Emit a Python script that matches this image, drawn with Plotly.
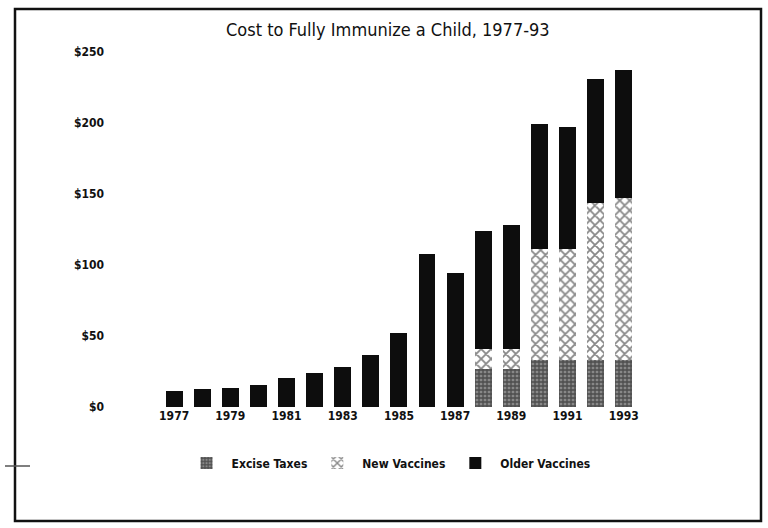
import plotly.graph_objects as go

years = list(range(1977, 1994))
tick_years = [1977, 1979, 1981, 1983, 1985, 1987, 1989, 1991, 1993]
excise_taxes = [0, 0, 0, 0, 0, 0, 0, 0, 0, 0, 0, 27, 27, 33, 33, 33, 33]
new_vaccines = [0, 0, 0, 0, 0, 0, 0, 0, 0, 0, 0, 14, 14, 78, 78, 111, 114]
older_vaccines = [11.5, 12.5, 13.5, 15.5, 20.5, 24, 28, 36.5, 52, 107.5, 94.5, 83, 87, 88, 86, 87, 90]
y_ticks = [0, 50, 100, 150, 200, 250]
y_tick_text = ["$" + str(v) for v in y_ticks]

FONT = "DejaVu Sans Condensed"

fig = go.Figure()
fig.add_trace(go.Bar(
    x=years, y=excise_taxes, name="Excise Taxes",
    marker=dict(color="#444444", line=dict(width=0),
                pattern=dict(shape="+", fgcolor="#111111", bgcolor="#888888", size=4, solidity=0.55)),
))
fig.add_trace(go.Bar(
    x=years, y=new_vaccines, name="New Vaccines",
    marker=dict(color="white", line=dict(width=0),
                pattern=dict(shape="x", fgcolor="#111111", bgcolor="white", size=7, solidity=0.45)),
))
fig.add_trace(go.Bar(
    x=years, y=older_vaccines, name="Older Vaccines",
    marker=dict(color="#0d0d0d", line=dict(width=0)),
))

fig.update_layout(
    width=768, height=528,
    barmode="stack", bargap=0.4,
    paper_bgcolor="white", plot_bgcolor="white",
    margin=dict(l=105, r=128, t=52, b=121),
    title=dict(text="Cost to Fully Immunize a Child, 1977-93", x=0.505, xanchor="center",
               y=0.943, yanchor="middle", font=dict(family=FONT, size=18, color="#111")),
    font=dict(family=FONT, color="#111"),
    showlegend=True,
    legend=dict(orientation="h", x=0.53, xanchor="center", y=-0.158, yanchor="middle",
                font=dict(family=FONT, size=12, color="#111", weight="bold"), traceorder="normal",
                itemwidth=40, bgcolor="rgba(0,0,0,0)"),
    xaxis=dict(range=[1974.54, 1993.58], tickvals=tick_years, ticktext=[str(y) for y in tick_years],
               showgrid=False, zeroline=False, showline=False, ticks="",
               tickfont=dict(family=FONT, size=12, color="#111", weight="bold")),
    yaxis=dict(range=[0, 250], tickvals=y_ticks, ticktext=y_tick_text,
               showgrid=False, zeroline=False, showline=False, ticks="",
               tickfont=dict(family=FONT, size=12, color="#111", weight="bold")),
    shapes=[
        dict(type="rect", xref="paper", yref="paper",
             x0=-90/535, x1=(761-105)/535, y0=(407-521)/355, y1=(407-9)/355,
             line=dict(color="#111", width=2.5), fillcolor="rgba(0,0,0,0)"),
        dict(type="line", xref="paper", yref="paper",
             x0=-100/535, x1=-75/535, y0=(407-466)/355, y1=(407-466)/355,
             line=dict(color="#555", width=1.5)),
    ],
)

fig.write_html("out.html", config={"displayModeBar": False},
               post_script="document.body.style.margin='0';document.body.style.overflow='hidden';")
